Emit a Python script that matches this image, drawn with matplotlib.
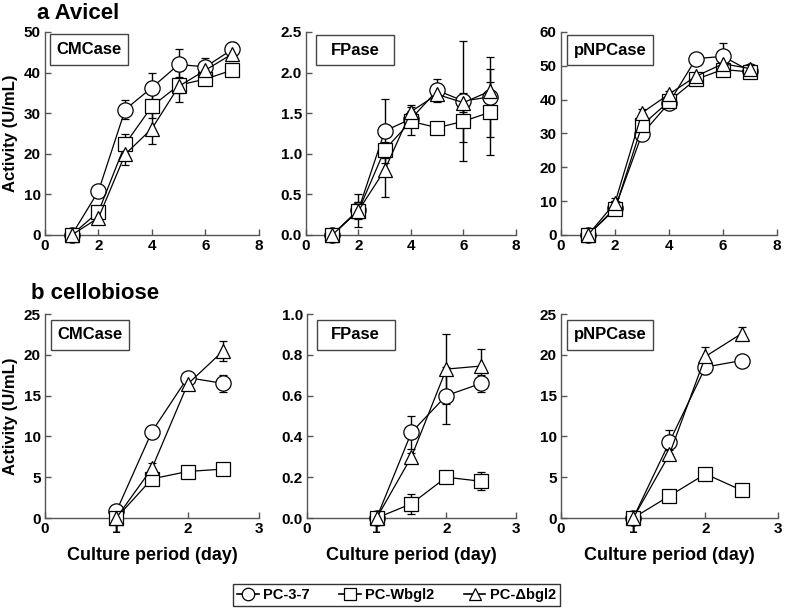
import numpy as np
import matplotlib.pyplot as plt
from matplotlib.patches import Rectangle
from matplotlib.lines import Line2D

plt.rcParams['font.family'] = ['Liberation Sans', 'DejaVu Sans']
plt.rcParams['font.weight'] = 'bold'

# Avicel culture (days 1-7)
days_a = [1, 2, 3, 4, 5, 6, 7]
cmc_a_pc37 = [0, 10.8, 30.9, 36.3, 42.0, 41.4, 45.7]
cmc_a_pc37_err = [0, 0.5, 2.3, 3.6, 3.9, 2.3, 1.8]
cmc_a_wbgl2 = [0, 5.7, 22.4, 31.7, 36.9, 38.4, 40.6]
cmc_a_wbgl2_err = [0, 0.5, 2.4, 3.0, 2.0, 1.0, 1.0]
cmc_a_dbgl2 = [0, 4.2, 19.9, 26.2, 36.6, 40.6, 44.6]
cmc_a_dbgl2_err = [0, 0.8, 2.7, 3.8, 3.8, 1.5, 1.5]

fp_a_pc37 = [0, 0.31, 1.28, 1.43, 1.78, 1.65, 1.70]
fp_a_pc37_err = [0, 0.1, 0.39, 0.1, 0.14, 0.74, 0.49]
fp_a_wbgl2 = [0, 0.30, 1.05, 1.40, 1.32, 1.40, 1.51]
fp_a_wbgl2_err = [0, 0.2, 0.1, 0.17, 0.02, 0.25, 0.53]
fp_a_dbgl2 = [0, 0.30, 0.80, 1.52, 1.73, 1.63, 1.77]
fp_a_dbgl2_err = [0, 0.1, 0.33, 0.08, 0.08, 0.12, 0.11]

pnp_a_pc37 = [0, 7.9, 29.8, 39.0, 52.1, 52.8, 48.5]
pnp_a_pc37_err = [0, 2.0, 1.0, 1.5, 1.0, 4.0, 1.0]
pnp_a_wbgl2 = [0, 7.6, 32.4, 39.5, 46.0, 48.9, 48.2]
pnp_a_wbgl2_err = [0, 1.5, 1.0, 1.5, 1.0, 1.0, 1.0]
pnp_a_dbgl2 = [0, 9.5, 36.1, 41.6, 46.9, 50.6, 49.2]
pnp_a_dbgl2_err = [0, 1.5, 1.0, 1.0, 1.0, 1.0, 1.0]

# cellobiose culture (days 1-2.5)
days_b = [1, 1.5, 2, 2.5]
cmc_b_pc37 = [0.8, 10.6, 17.2, 16.5]
cmc_b_pc37_err = [0, 0.3, 0.3, 1.0]
cmc_b_wbgl2 = [0, 4.8, 5.7, 6.0]
cmc_b_wbgl2_err = [0, 0.2, 0.2, 0.2]
cmc_b_dbgl2 = [0, 6.1, 16.4, 20.5]
cmc_b_dbgl2_err = [0, 0.7, 0.7, 1.2]

fp_b_pc37 = [0, 0.42, 0.60, 0.66]
fp_b_pc37_err = [0, 0.08, 0.14, 0.04]
fp_b_wbgl2 = [0, 0.07, 0.20, 0.18]
fp_b_wbgl2_err = [0, 0.05, 0.01, 0.045]
fp_b_dbgl2 = [0, 0.30, 0.73, 0.745]
fp_b_dbgl2_err = [0, 0.02, 0.17, 0.085]

pnp_b_pc37 = [0, 9.3, 18.5, 19.3]
pnp_b_pc37_err = [0, 1.5, 0.8, 0.3]
pnp_b_wbgl2 = [0, 2.7, 5.4, 3.4]
pnp_b_wbgl2_err = [0, 0.1, 0.1, 0.1]
pnp_b_dbgl2 = [0, 7.8, 19.8, 22.6]
pnp_b_dbgl2_err = [0, 0.5, 1.1, 0.8]

strains = ['PC-3-7', 'PC-Wbgl2', 'PC-\u0394bgl2']
markers = ['o', 's', '^']

panels = [
    # x, series, errors, xlim, xticks, ylim, yticks, fmt, label, box, rect
    (days_a, [cmc_a_pc37, cmc_a_wbgl2, cmc_a_dbgl2],
     [cmc_a_pc37_err, cmc_a_wbgl2_err, cmc_a_dbgl2_err],
     (0, 8), [0, 2, 4, 6, 8], (0, 50), [0, 10, 20, 30, 40, 50], '%d',
     'CMCase', (0.023, 0.837, 0.365, 0.153), [0.0573, 0.618, 0.2726, 0.330]),
    (days_a, [fp_a_pc37, fp_a_wbgl2, fp_a_dbgl2],
     [fp_a_pc37_err, fp_a_wbgl2_err, fp_a_dbgl2_err],
     (0, 8), [0, 2, 4, 6, 8], (0, 2.5), [0, 0.5, 1.0, 1.5, 2.0, 2.5], '%.1f',
     'FPase', (0.048, 0.837, 0.371, 0.148), [0.3898, 0.618, 0.2675, 0.330]),
    (days_a, [pnp_a_pc37, pnp_a_wbgl2, pnp_a_dbgl2],
     [pnp_a_pc37_err, pnp_a_wbgl2_err, pnp_a_dbgl2_err],
     (0, 8), [0, 2, 4, 6, 8], (0, 60), [0, 10, 20, 30, 40, 50, 60], '%d',
     'pNPCase', (0.028, 0.837, 0.398, 0.148), [0.7147, 0.618, 0.275, 0.330]),
    (days_b, [cmc_b_pc37, cmc_b_wbgl2, cmc_b_dbgl2],
     [cmc_b_pc37_err, cmc_b_wbgl2_err, cmc_b_dbgl2_err],
     (0, 3), [0, 1, 2, 3], (0, 25), [0, 5, 10, 15, 20, 25], '%d',
     'CMCase', (0.028, 0.825, 0.365, 0.148), [0.0573, 0.1577, 0.2726, 0.3317]),
    (days_b, [fp_b_pc37, fp_b_wbgl2, fp_b_dbgl2],
     [fp_b_pc37_err, fp_b_wbgl2_err, fp_b_dbgl2_err],
     (0, 3), [0, 1, 2, 3], (0, 1.0), [0, 0.2, 0.4, 0.6, 0.8, 1.0], '%.1f',
     'FPase', (0.048, 0.825, 0.371, 0.148), [0.391, 0.1577, 0.2663, 0.3317]),
    (days_b, [pnp_b_pc37, pnp_b_wbgl2, pnp_b_dbgl2],
     [pnp_b_pc37_err, pnp_b_wbgl2_err, pnp_b_dbgl2_err],
     (0, 3), [0, 1, 2, 3], (0, 25), [0, 5, 10, 15, 20, 25], '%d',
     'pNPCase', (0.028, 0.825, 0.398, 0.148), [0.7147, 0.1577, 0.276, 0.3317]),
]

fig = plt.figure(figsize=(7.85, 6.15), dpi=100)

for i, (x, series, errs, xlim, xticks, ylim, yticks, fmt, label, box, rect) in enumerate(panels):
    ax = fig.add_axes(rect)
    for ys, es, m in zip(series, errs, markers):
        ax.errorbar(x, ys, yerr=es, color='black', lw=0.9, elinewidth=1.0,
                    capsize=3, capthick=1.0, marker=m, ms=10 if m != 'o' else 11,
                    mfc='white', mec='black', mew=0.9, clip_on=False, zorder=3)
    ax.set_xlim(*xlim)
    ax.set_ylim(*ylim)
    ax.set_xticks(xticks)
    ax.set_yticks(yticks)
    ax.set_yticklabels([fmt % v for v in yticks])
    for s in ['top', 'right']:
        ax.spines[s].set_visible(False)
    for s in ['left', 'bottom']:
        ax.spines[s].set_color('#555555')
        ax.spines[s].set_linewidth(1.0)
    ax.tick_params(direction='in', length=4, width=1, color='#555555',
                   labelsize=11, pad=3)
    for t in ax.get_xticklabels() + ax.get_yticklabels():
        t.set_fontweight('bold')
    bx, by, bw, bh = box
    ax.add_patch(Rectangle((bx, by), bw, bh, transform=ax.transAxes, fill=False,
                           ec='#444444', lw=1.0, clip_on=False, zorder=4))
    ax.text(bx + bw / 2, by + bh / 2, label, transform=ax.transAxes,
            ha='center', va='center', fontsize=12, fontweight='bold')
    if i % 3 == 0:
        ax.set_ylabel('Activity (U/mL)', fontsize=12, fontweight='bold', labelpad=4)
    if i >= 3:
        ax.set_xlabel('Culture period (day)', fontsize=13, fontweight='bold', labelpad=8)

fig.text(0.047, 0.978, 'a Avicel', fontsize=16, fontweight='bold', va='center')
fig.text(0.040, 0.522, 'b cellobiose', fontsize=16, fontweight='bold', va='center')

handles = [Line2D([0], [0], color='black', lw=1.2, marker=m, ms=9, mfc='white',
                  mec='black', mew=0.9) for m in markers]
leg = fig.legend(handles, strains, loc='center', bbox_to_anchor=(0.505, 0.0325),
                 ncol=3, frameon=True, fancybox=False,
                 handlelength=1.5, columnspacing=2.0, handletextpad=0.3,
                 borderpad=0.3, prop={'weight': 'bold', 'size': 10.5})
leg.get_frame().set_edgecolor('black')
leg.get_frame().set_linewidth(1.0)

fig.savefig('out.png', dpi=100)
